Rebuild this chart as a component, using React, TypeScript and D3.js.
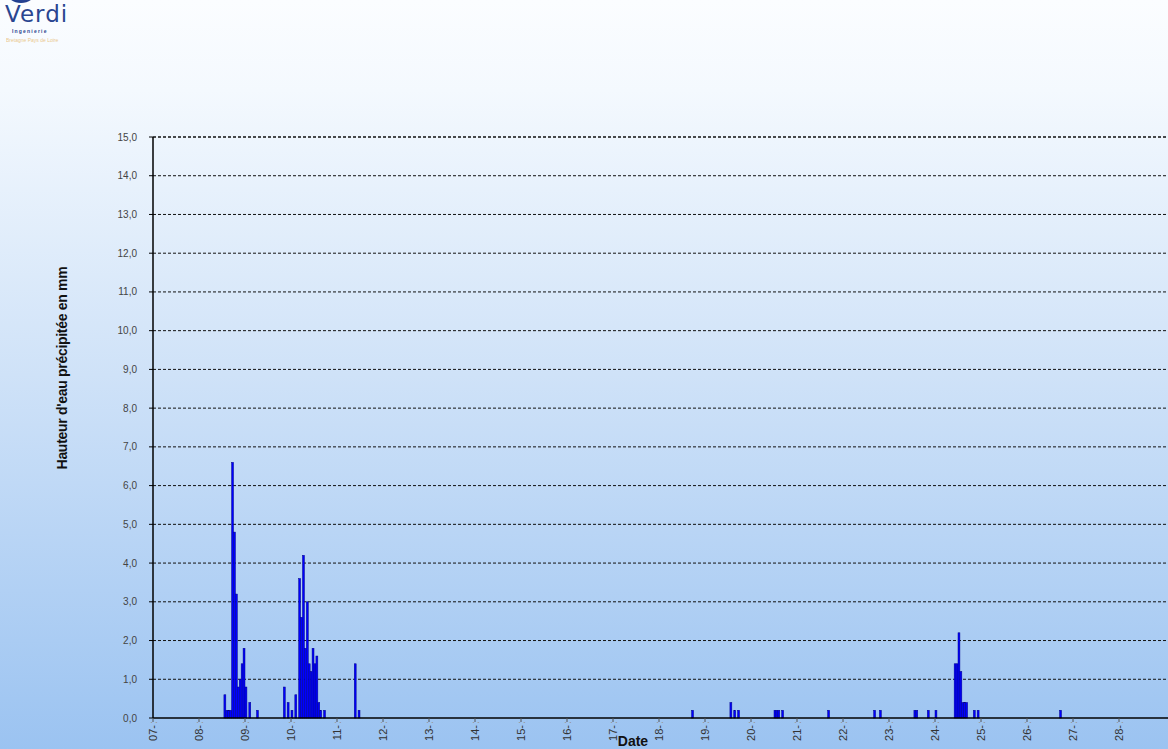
import React from "react";
import * as d3 from "d3";

// Rainfall per hour, time given as "DD HH"
const times = [
  "08 13", "08 14", "08 15", "08 16", "08 17", "08 18", "08 19", "08 20", "08 21", "08 22", "08 23",
  "09 00", "09 02", "09 06", "09 20", "09 22",
  "10 00", "10 02", "10 04", "10 05", "10 06", "10 07", "10 08", "10 09", "10 10", "10 11", "10 12",
  "10 13", "10 14", "10 15", "10 17",
  "11 09", "11 11",
  "18 17", "19 13", "19 15", "19 17", "20 12", "20 13", "20 14", "20 16", "21 16", "22 16", "22 19",
  "23 13", "23 14", "23 20", "24 00",
  "24 10", "24 11", "24 12", "24 13", "24 14", "24 15", "24 16", "24 20", "24 22",
  "26 17",
];
const values = [
  0.6, 0.2, 0.2, 0.2, 6.6, 4.8, 3.2, 0.8, 1.0, 1.4, 1.8,
  0.8, 0.4, 0.2, 0.8, 0.4,
  0.2, 0.6, 3.6, 2.6, 4.2, 1.8, 3.0, 1.4, 1.2, 1.8, 1.4,
  1.6, 0.4, 0.2, 0.2,
  1.4, 0.2,
  0.2, 0.4, 0.2, 0.2, 0.2, 0.2, 0.2, 0.2, 0.2, 0.2, 0.2,
  0.2, 0.2, 0.2, 0.2,
  1.4, 1.4, 2.2, 1.2, 0.4, 0.4, 0.4, 0.2, 0.2,
  0.2,
];
const dayLabels = ["07", "08", "09", "10", "11", "12", "13", "14", "15", "16", "17", "18", "19", "20", "21", "22", "23", "24", "25", "26", "27", "28"];
const yTicks = [0, 1, 2, 3, 4, 5, 6, 7, 8, 9, 10, 11, 12, 13, 14, 15];

const W = 1168;
const H = 749;
const firstDay = 7;
const nDays = 22;

export default function App() {
  const left = 153, right = 1165, top = 137, bottom = 718;
  const x = d3.scaleLinear().domain([0, nDays * 24]).range([left, right]);
  const y = d3.scaleLinear().domain([0, 15]).range([bottom, top]);
  const fmt = (v: number) => d3.format(".1f")(v).replace(".", ",");
  const bars = times.map((t, i) => {
    const [dd, hh] = t.split(" ").map(Number);
    const h = (dd - firstDay) * 24 + hh;
    return { h, v: values[i] };
  });
  return (
    <svg width={W} height={H} style={{ position: "absolute", left: 0, top: 0, fontFamily: "Liberation Sans, Arial, sans-serif" }}>
      <defs>
        <linearGradient id="bg" x1="0" y1="0" x2="0" y2="1">
          <stop offset="0" stopColor="#fbfdff" />
          <stop offset="0.12" stopColor="#f4f9fe" />
          <stop offset="0.5" stopColor="#cfe2f8" />
          <stop offset="1" stopColor="#9bc3f1" />
        </linearGradient>
        <radialGradient id="logo" cx="0.5" cy="0.3" r="0.7">
          <stop offset="0" stopColor="#4b6fc0" />
          <stop offset="1" stopColor="#1e3a8a" />
        </radialGradient>
      </defs>
      <rect x={0} y={0} width={W} height={H} fill="url(#bg)" />
      {/* logo */}
      <ellipse cx={21} cy={-7} rx={14} ry={10} fill="url(#logo)" />
      <text x={5} y={22} fontSize={23} fontFamily="DejaVu Sans, sans-serif" fill="#2a4590" letterSpacing={1}>Verdi</text>
      <text x={12} y={33} fontSize={5} fontWeight="bold" fill="#2a4590" letterSpacing={1.2}>Ingenierie</text>
      <text x={6} y={42} fontSize={5} fill="#e6b35a" opacity={0.7}>Bretagne Pays de Loire</text>

      {/* gridlines */}
      {yTicks.filter((t) => t > 0).map((t) => (
        <line key={"g" + t} x1={left} x2={right + 1} y1={y(t)} y2={y(t)} stroke="#111" strokeWidth={t === 15 ? 1.6 : 1} strokeDasharray="3,2" />
      ))}
      {/* y ticks */}
      {yTicks.map((t) => (
        <g key={"y" + t}>
          <line x1={left - 4} x2={left} y1={y(t)} y2={y(t)} stroke="#000" />
          <text x={left - 16} y={y(t)} dy="0.35em" textAnchor="end" fontSize={10} fill="#444">{fmt(t)}</text>
        </g>
      ))}
      {/* bars */}
      {bars.map((b, i) => (
        <rect key={"b" + i} x={x(b.h)} y={y(b.v)} width={x(b.h + 1) - x(b.h)} height={y(0) - y(b.v)} fill="#0000ff" stroke="#00008a" strokeWidth={0.5} />
      ))}
      {/* axes */}
      <line x1={left} x2={left} y1={top} y2={bottom} stroke="#000" strokeWidth={1.5} />
      <line x1={left} x2={W} y1={bottom} y2={bottom} stroke="#000" strokeWidth={1.5} />
      {/* x ticks */}
      {dayLabels.map((d, i) => {
        const xx = x(i * 24);
        return (
          <g key={"x" + d}>
            <line x1={xx} x2={xx} y1={bottom} y2={bottom + 4} stroke="#555" />
            <text transform={`translate(${xx + 4},${bottom + 3}) rotate(-90)`} textAnchor="end" fontSize={11} fill="#333">
              {d + "-"}
              <tspan fill="#999" dx={1}>:</tspan>
            </text>
          </g>
        );
      })}
      <text x={633} y={746} textAnchor="middle" fontSize={14} fontWeight="bold" fill="#111">Date</text>
      <text transform={`translate(67,368) rotate(-90)`} textAnchor="middle" fontSize={14} fontWeight="bold" fill="#111" letterSpacing={-0.3}>Hauteur d'eau précipitée en mm</text>
    </svg>
  );
}
